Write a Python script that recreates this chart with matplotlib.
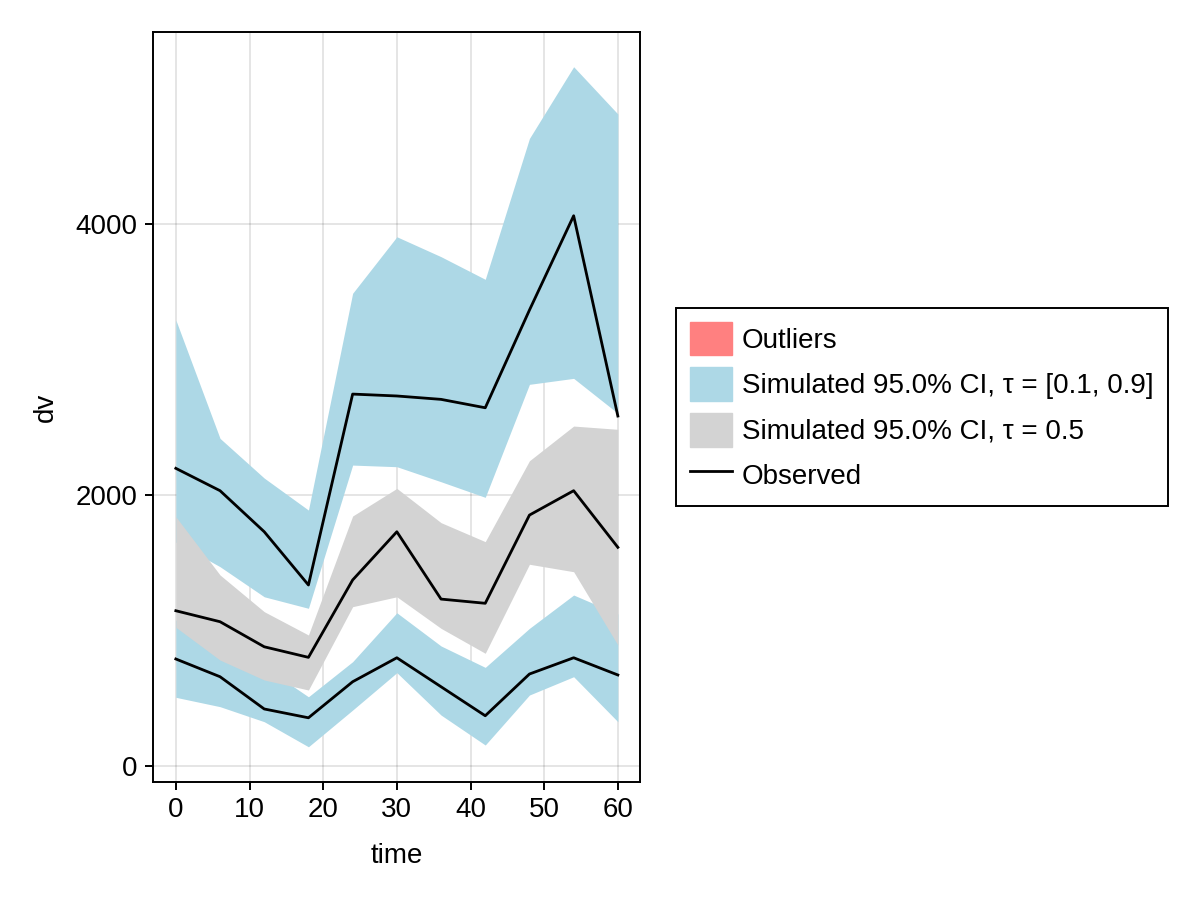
import matplotlib
matplotlib.use('Agg')
import matplotlib.pyplot as plt
from matplotlib.patches import Patch
from matplotlib.lines import Line2D

plt.rcParams['font.family'] = ['Liberation Sans', 'DejaVu Sans']
plt.rcParams['font.size'] = 20

# data
time = [0, 6, 12, 18, 24, 30, 36, 42, 48, 54, 60]

# tau = 0.9 band
hi_top = [3292, 2418, 2125, 1889, 3489, 3906, 3759, 3592, 4632, 5161, 4812]
hi_bot = [1653, 1471, 1249, 1164, 2221, 2209, 2098, 1983, 2817, 2861, 2603]
obs_hi = [2197, 2032, 1729, 1336, 2745, 2731, 2706, 2644, 3365, 4061, 2583]

# tau = 0.5 band
mid_top = [1840, 1410, 1139, 967, 1845, 2049, 1796, 1656, 2253, 2509, 2485]
mid_bot = [1024, 782, 635, 561, 1176, 1249, 1016, 832, 1489, 1434, 893]
obs_mid = [1146, 1065, 880, 802, 1373, 1729, 1232, 1201, 1852, 2032, 1614]

# tau = 0.1 band
lo_top = [1077, 856, 733, 511, 770, 1131, 886, 728, 1016, 1262, 1122]
lo_bot = [507, 438, 327, 142, 413, 689, 376, 155, 524, 659, 327]
obs_lo = [790, 659, 421, 356, 622, 799, 585, 371, 679, 799, 672]

blue = '#ADD8E6'
gray = '#D3D3D3'
red = '#FF8080'

fig = plt.figure(figsize=(12, 9), dpi=100)
ax = fig.add_axes([0.1275, 0.1311, 0.4058, 0.8333])

ax.fill_between(time, hi_bot, hi_top, color=blue, lw=0)
ax.fill_between(time, lo_bot, lo_top, color=blue, lw=0)
ax.fill_between(time, mid_bot, mid_top, color=gray, lw=0)
for obs in [obs_hi, obs_mid, obs_lo]:
    ax.plot(time, obs, color='black', lw=2.0)

ax.set_xlim(-3.1, 63.0)
ax.set_ylim(-118, 5417)
ax.set_xticks([0, 10, 20, 30, 40, 50, 60])
ax.set_yticks([0, 2000, 4000])
ax.grid(True, color='black', alpha=0.12, lw=1.2)
ax.set_axisbelow(True)
for s in ax.spines.values():
    s.set_linewidth(1.4)
ax.tick_params(direction='out', length=6, width=1.4, labelsize=20, pad=5)
ax.set_xlabel('time', fontsize=20, labelpad=14)
ax.set_ylabel('dv', fontsize=20, labelpad=12)

handles = [Patch(color=red), Patch(color=blue), Patch(color=gray),
           Line2D([], [], color='black', lw=2.0)]
labels = ['Outliers', 'Simulated 95.0% CI, τ = [0.1, 0.9]',
          'Simulated 95.0% CI, τ = 0.5', 'Observed']
leg = fig.legend(handles, labels, loc='center left', bbox_to_anchor=(0.5633, 0.548),
                 fancybox=False, edgecolor='black', framealpha=1,
                 handlelength=1.5, handleheight=1.5, handletextpad=0.38,
                 labelspacing=0.42, borderpad=0.5, borderaxespad=0)
leg.get_frame().set_linewidth(1.4)

fig.savefig('out.png', dpi=100)
